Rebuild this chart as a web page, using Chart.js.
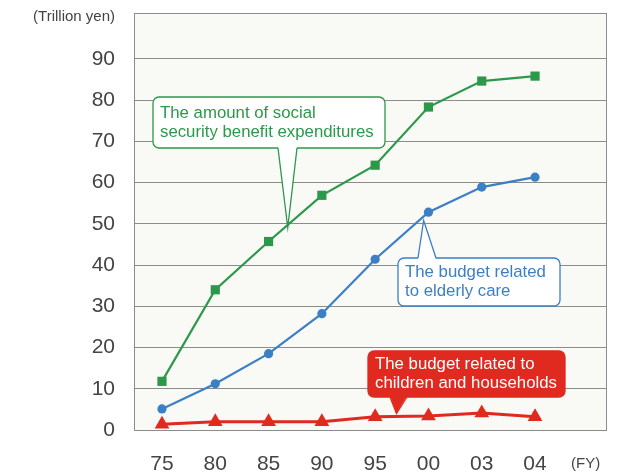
<!DOCTYPE html>
<html>
<head>
<meta charset="utf-8">
<script src="https://cdn.jsdelivr.net/npm/chart.js@4.4.1/dist/chart.umd.min.js"></script>
<style>
  html, body { margin: 0; padding: 0; background: #fff; }
  #wrap { width: 630px; height: 475px; }
</style>
</head>
<body>
<div id="wrap"><canvas id="chart"></canvas></div>
<script>
// values (trillion yen)
const years = ['75', '80', '85', '90', '95', '00', '03', '04'];
const socialSecurity = [11.8, 34.0, 45.7, 56.9, 64.2, 78.3, 84.6, 85.8];
const elderlyCare = [5.1, 11.2, 18.5, 28.2, 41.4, 52.8, 58.9, 61.3];
const childrenHouseholds = [1.4, 2.0, 2.0, 2.0, 3.2, 3.4, 4.1, 3.2];
const yTicks = [0, 10, 20, 30, 40, 50, 60, 70, 80, 90];

const GREEN = '#2c984a';
const BLUE = '#3b7fc4';
const RED = '#e0291f';
const FONT = '"Liberation Sans", Arial, sans-serif';

// callout boxes, tip given in data coords (x index, value)
const callouts = [
    { lines: ['The amount of social', 'security benefit expenditures'], box: [153, 97, 385, 148],
      tail: 'bottom', base: [278, 297], tip: [2.36, 49.1], stroke: GREEN, fill: '#fff', text: GREEN, dy: [-9.5, 10] },
    { lines: ['The budget related', 'to elderly care'], box: [398, 258, 560, 306],
      tail: 'top', base: [418, 436], tip: [4.91, 50.8], stroke: BLUE, fill: '#fff', text: BLUE, dy: [-9.5, 9] },
    { lines: ['The budget related to', 'children and households'], box: [368, 351, 565, 397],
      tail: 'bottom', base: [390, 407], tip: [4.4, 4.0], stroke: RED, fill: RED, text: '#fff', dy: [-10, 9] }
];

const frame = {
    id: 'frame',
    beforeDatasetsDraw(chart) {
        const { ctx, chartArea: a } = chart;
        ctx.save();
        ctx.fillStyle = '#f9f9f6';
        ctx.globalCompositeOperation = 'destination-over';
        ctx.fillRect(a.left, a.top, a.width, a.height);
        ctx.restore();
        ctx.save();
        ctx.strokeStyle = '#8c8c8c';
        ctx.lineWidth = 1;
        ctx.strokeRect(a.left + 0.5, a.top + 0.5, a.width - 1, a.height);
        ctx.restore();
    },
    afterDraw(chart) {
        const { ctx } = chart;
        ctx.save();
        ctx.fillStyle = '#444';
        ctx.font = '15px ' + FONT;
        ctx.textAlign = 'right';
        ctx.textBaseline = 'middle';
        ctx.fillText('(Trillion yen)', 115, 17);
        ctx.textAlign = 'left';
        ctx.fillText('(FY)', 571, 464);
        ctx.restore();
    }
};

const calloutPlugin = {
    id: 'callouts',
    afterDatasetsDraw(chart) {
        const { ctx } = chart;
        const xs = chart.scales.x, ys = chart.scales.y;
        callouts.forEach(c => {
            const [x0, y0, x1, y1] = c.box;
            const tx = xs.getPixelForValue(c.tip[0]);
            const ty = ys.getPixelForValue(c.tip[1]);
            const by = c.tail === 'bottom' ? y1 : y0;
            ctx.save();
            ctx.lineWidth = 1.3;
            ctx.strokeStyle = c.stroke;
            ctx.fillStyle = c.fill;
            ctx.beginPath();
            ctx.roundRect(x0, y0, x1 - x0, y1 - y0, 6);
            ctx.fill();
            ctx.stroke();
            // tail
            const inset = c.tail === 'bottom' ? -1.5 : 1.5;
            ctx.beginPath();
            ctx.moveTo(c.base[0], by + inset);
            ctx.lineTo(tx, ty);
            ctx.lineTo(c.base[1], by + inset);
            ctx.closePath();
            ctx.fill();
            ctx.beginPath();
            ctx.moveTo(c.base[0], by);
            ctx.lineTo(tx, ty);
            ctx.lineTo(c.base[1], by);
            ctx.stroke();
            ctx.fillStyle = c.text;
            ctx.font = '16.8px ' + FONT;
            ctx.textAlign = 'left';
            ctx.textBaseline = 'middle';
            const mid = (y0 + y1) / 2;
            ctx.fillText(c.lines[0], x0 + 7, mid + c.dy[0]);
            ctx.fillText(c.lines[1], x0 + 7, mid + c.dy[1]);
            ctx.restore();
        });
    }
};

const toXY = arr => arr.map((v, i) => ({ x: i, y: v }));

new Chart(document.getElementById('chart'), {
    type: 'line',
    data: {
        datasets: [{
            label: 'Social security benefit expenditures',
            data: toXY(socialSecurity),
            borderColor: GREEN,
            backgroundColor: GREEN,
            borderWidth: 2.2,
            pointStyle: 'rect',
            pointRadius: 6.5,
            pointBorderWidth: 0,
            tension: 0
        }, {
            label: 'Budget related to elderly care',
            data: toXY(elderlyCare),
            borderColor: BLUE,
            backgroundColor: BLUE,
            borderWidth: 2.2,
            pointStyle: 'circle',
            pointRadius: 4.6,
            pointBorderWidth: 0,
            tension: 0
        }, {
            label: 'Budget related to children and households',
            data: toXY(childrenHouseholds),
            borderColor: RED,
            backgroundColor: RED,
            borderWidth: 3,
            pointStyle: 'triangle',
            pointRadius: 8.5,
            pointBorderWidth: 0,
            tension: 0
        }]
    },
    options: {
        responsive: true,
        maintainAspectRatio: false,
        animation: false,
        clip: false,
        layout: { padding: { top: 13, right: 23, left: 0, bottom: 0 } },
        plugins: {
            legend: { display: false },
            tooltip: { enabled: false }
        },
        scales: {
            x: {
                type: 'linear',
                min: -0.525,
                max: 8.35,
                afterBuildTicks: axis => { axis.ticks = years.map((_, i) => ({ value: i })); },
                afterFit: scale => {
                    scale.height = 45;
                    scale.paddingLeft = 0; scale.paddingRight = 0;
                },
                grid: { display: false, drawTicks: false },
                border: { display: false },
                ticks: {
                    autoSkip: false,
                    maxRotation: 0,
                    padding: 22,
                    color: '#444',
                    font: { family: FONT, size: 21 },
                    callback: v => years[v]
                }
            },
            y: {
                min: 0,
                max: 101.1,
                afterBuildTicks: axis => { axis.ticks = yTicks.map(v => ({ value: v })); },
                afterFit: scale => {
                    scale.width = 134;
                    scale.paddingTop = 0; scale.paddingBottom = 0;
                },
                grid: { color: '#8c8c8c', lineWidth: 1, drawTicks: false },
                border: { display: false },
                ticks: {
                    padding: 19,
                    color: '#444',
                    font: { family: FONT, size: 21 }
                }
            }
        }
    },
    plugins: [frame, calloutPlugin]
});
</script>
</body>
</html>
